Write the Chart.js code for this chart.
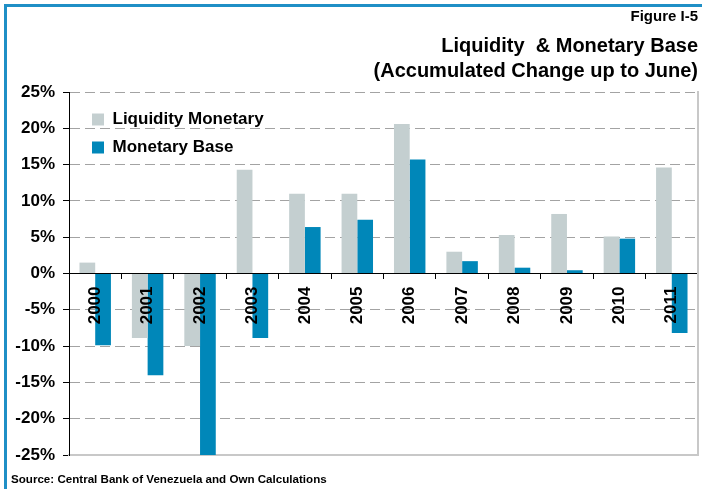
<!DOCTYPE html>
<html>
<head>
<meta charset="utf-8">
<script src="https://cdn.jsdelivr.net/npm/chart.js@4.4.1/dist/chart.umd.min.js"></script>
<style>
  body { margin:0; background:#fff; }
  #marco { position:absolute; left:0; top:0; width:702px; height:489px; overflow:hidden; }
  #borde { position:absolute; left:4px; top:4px; width:720px; height:500px; border-left:3px solid #1f8fc6; border-top:3px solid #1f8fc6; }
  #caja { position:absolute; left:0; top:0; width:702px; height:489px; }
  #fuente { position:absolute; left:11px; top:472px; font:bold 11.6px "Liberation Sans", Arial, sans-serif; color:#000; }
</style>
</head>
<body>
<div id="marco">
  <div id="borde"></div>
  <div id="caja"><canvas id="chart"></canvas></div>
  <div id="fuente">Source: Central Bank of Venezuela and Own Calculations</div>
</div>
<script>
var anios = ["2000","2001","2002","2003","2004","2005","2006","2007","2008","2009","2010","2011"];
var liquidez = [1.5, -8.9, -10.0, 14.3, 11.0, 11.0, 20.6, 3.0, 5.3, 8.2, 5.1, 14.6];
var base_monetaria = [-9.9, -14.0, -25.0, -8.9, 6.4, 7.4, 15.7, 1.7, 0.8, 0.45, 4.8, -8.2];
var ticks_y = [-25, -20, -15, -10, -5, 0, 5, 10, 15, 20, 25];

Chart.defaults.font.family = '"Liberation Sans", Arial, sans-serif';
Chart.defaults.color = "#000";

// la leyenda va dentro del area del grafico, arriba a la izquierda
var mover_leyenda = {
    id : "mover_leyenda",
    afterLayout : function(chart) {
        var a = chart.chartArea;
        chart.legend.left = a.left + 12;
        chart.legend.top = a.top + 8;
    }
};

var datos = {
    labels : anios,
    datasets : [{
        label : "Liquidity Monetary",
        backgroundColor : "#c4cfd0",
        data : liquidez
    }, {
        label : "Monetary Base",
        backgroundColor : "#0087b9",
        data : base_monetaria
    }]
};

var canvas = document.getElementById('chart').getContext('2d');
window.bar = new Chart(canvas, {
    type : "bar",
    data : datos,
    plugins : [mover_leyenda],
    options : {
        responsive : true,
        maintainAspectRatio : false,
        animation : false,
        datasets : { bar : { categoryPercentage : 0.6, barPercentage : 1.0 } },
        layout : { padding : { left : 9, right : 4, top : 0, bottom : 34 } },
        scales : {
            x : {
                position : { y : 0 },
                afterFit : function(s) { s.height = 0; },
                grid : { drawOnChartArea : false, drawTicks : true, tickLength : 5, tickColor : "#000" },
                border : { display : true, color : "#000", width : 1 },
                ticks : { z : 1, minRotation : 90, maxRotation : 90, padding : 8, font : { size : 17, weight : "bold" } }
            },
            x2 : {
                type : "category",
                position : "bottom",
                afterFit : function(s) { s.height = 0; },
                grid : { display : false },
                ticks : { display : false },
                border : { display : true, color : "#c8c8c8", width : 2 }
            },
            y : {
                min : -25,
                max : 25,
                afterFit : function(s) { s.width = 60; },
                afterBuildTicks : function(s) { s.ticks = ticks_y.map(function(v) { return { value : v }; }); },
                grid : {
                    color : function(c) { return c.tick && c.tick.value === 0 ? "rgba(0,0,0,0)" : "#a3a3a3"; },
                    tickColor : "#000",
                    tickLength : 6
                },
                border : { display : true, color : "#000", width : 1, dash : [10, 5] },
                ticks : {
                    padding : 8,
                    font : { size : 17, weight : "bold" },
                    callback : function(v) { return v + "%"; }
                }
            },
            y2 : {
                position : "right",
                afterFit : function(s) { s.width = 0; },
                grid : { display : false },
                ticks : { display : false },
                border : { display : true, color : "#c8c8c8", width : 2 }
            }
        },
        plugins : {
            title : {
                display : true,
                text : "Figure I-5",
                align : "end",
                color : "#000",
                font : { size : 15, weight : "bold" },
                padding : { top : 8, bottom : 0 }
            },
            subtitle : {
                display : true,
                text : ["Liquidity  & Monetary Base", "(Accumulated Change up to June)"],
                align : "end",
                color : "#000",
                font : { size : 20, weight : "bold", lineHeight : 1.25 },
                padding : { top : 8, bottom : 8 }
            },
            legend : {
                position : "chartArea",
                align : "start",
                labels : {
                    boxWidth : 12,
                    boxHeight : 12,
                    padding : 11,
                    color : "#000",
                    font : { size : 17, weight : "bold" }
                }
            },
            tooltip : { enabled : false }
        }
    }
});
</script>
</body>
</html>
